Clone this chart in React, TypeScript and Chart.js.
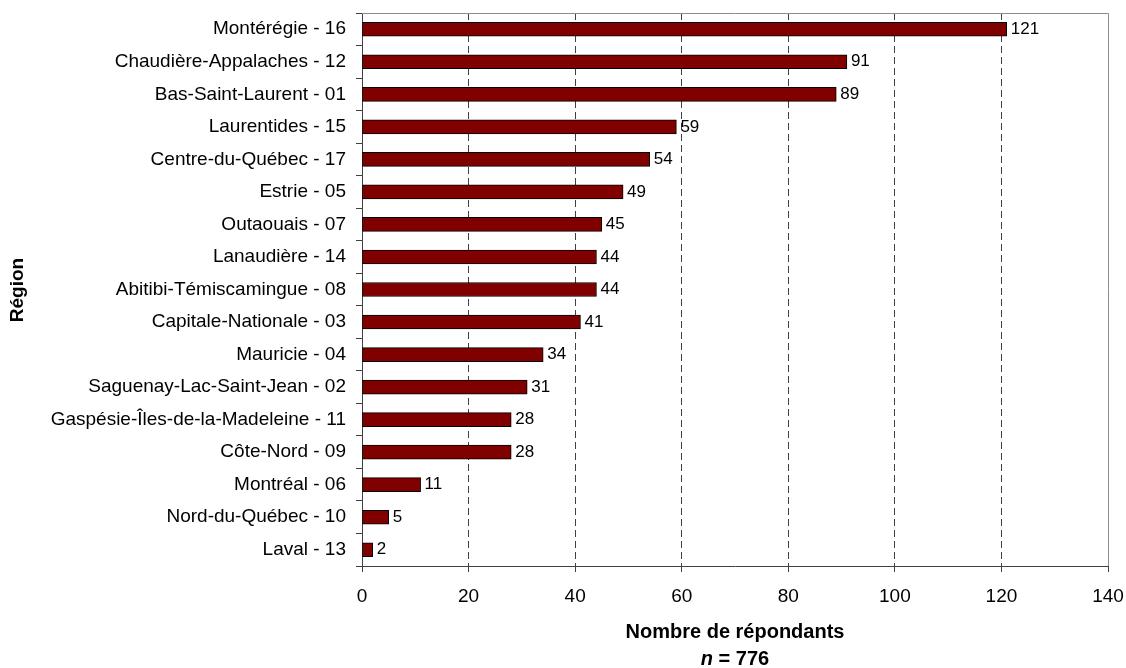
import React, { useEffect, useRef } from "react";
import { Chart, registerables } from "chart.js";

Chart.register(...registerables);

const regions: string[] = [
  "Montérégie - 16",
  "Chaudière-Appalaches - 12",
  "Bas-Saint-Laurent - 01",
  "Laurentides - 15",
  "Centre-du-Québec - 17",
  "Estrie - 05",
  "Outaouais - 07",
  "Lanaudière - 14",
  "Abitibi-Témiscamingue - 08",
  "Capitale-Nationale - 03",
  "Mauricie - 04",
  "Saguenay-Lac-Saint-Jean - 02",
  "Gaspésie-Îles-de-la-Madeleine - 11",
  "Côte-Nord - 09",
  "Montréal - 06",
  "Nord-du-Québec - 10",
  "Laval - 13",
];

const respondents: number[] = [121, 91, 89, 59, 54, 49, 45, 44, 44, 41, 34, 31, 28, 28, 11, 5, 2];

const xMin = 0;
const xMax = 140;
const xStep = 20;

const yTitle = "Région";
const xTitle = "Nombre de répondants";
const nLabel = "n";
const nValue = " = 776";

const FONT = '"Liberation Sans", Arial, Helvetica, sans-serif';

export default function App() {
  const ref = useRef<HTMLCanvasElement | null>(null);

  useEffect(() => {
    document.body.style.margin = "0";
    const canvas = ref.current;
    if (!canvas) return;

    const valueLabels = {
      id: "valueLabels",
      afterDatasetsDraw(chart: any) {
        const ctx = chart.ctx;
        const meta = chart.getDatasetMeta(0);
        ctx.save();
        ctx.font = `17px ${FONT}`;
        ctx.fillStyle = "#000";
        ctx.textAlign = "left";
        ctx.textBaseline = "middle";
        meta.data.forEach((bar: any, i: number) => {
          ctx.fillText(String(respondents[i]), bar.x + 4, bar.y);
        });
        ctx.restore();
      },
    };

    const frame = {
      id: "frame",
      beforeDatasetsDraw(chart: any) {
        const { ctx, chartArea } = chart;
        ctx.save();
        ctx.strokeStyle = "#8c8c8c";
        ctx.lineWidth = 1;
        ctx.beginPath();
        ctx.moveTo(chartArea.left, chartArea.top + 0.5);
        ctx.lineTo(chartArea.right + 0.5, chartArea.top + 0.5);
        ctx.lineTo(chartArea.right + 0.5, chartArea.bottom);
        ctx.stroke();
        ctx.restore();
      },
    };

    const titles = {
      id: "titles",
      afterDraw(chart: any) {
        const { ctx, chartArea } = chart;
        ctx.save();
        ctx.fillStyle = "#000";
        ctx.font = `bold 19px ${FONT}`;
        ctx.textAlign = "center";
        ctx.textBaseline = "middle";
        ctx.translate(18, 290);
        ctx.rotate(-Math.PI / 2);
        ctx.fillText(yTitle, 0, 0);
        ctx.restore();

        ctx.save();
        ctx.fillStyle = "#000";
        const cx = (chartArea.left + chartArea.right) / 2;
        ctx.font = `bold 20px ${FONT}`;
        ctx.textAlign = "center";
        ctx.textBaseline = "middle";
        ctx.fillText(xTitle, cx, 632);
        ctx.font = `bold italic 20px ${FONT}`;
        const w1 = ctx.measureText(nLabel).width;
        ctx.font = `bold 20px ${FONT}`;
        const w2 = ctx.measureText(nValue).width;
        const start = cx - (w1 + w2) / 2;
        ctx.textAlign = "left";
        ctx.font = `bold italic 20px ${FONT}`;
        ctx.fillText(nLabel, start, 659);
        ctx.font = `bold 20px ${FONT}`;
        ctx.fillText(nValue, start + w1, 659);
        ctx.restore();
      },
    };

    const chart = new Chart(canvas, {
      type: "bar",
      data: {
        labels: regions,
        datasets: [
          {
            data: respondents,
            backgroundColor: "#800000",
            borderColor: "#000000",
            borderWidth: 1,
            borderSkipped: false,
            barThickness: 14,
          },
        ],
      },
      options: {
        indexAxis: "y",
        responsive: false,
        animation: false,
        layout: { padding: { top: 13, right: 18, left: 0, bottom: 0 } },
        plugins: {
          legend: { display: false },
          tooltip: { enabled: false },
          title: { display: false },
        },
        scales: {
          x: {
            min: xMin,
            max: xMax,
            ticks: {
              stepSize: xStep,
              color: "#000",
              font: { family: FONT, size: 19 },
              padding: 13,
              maxRotation: 0,
            },
            grid: {
              color: (c: any) =>
                c.tick && (c.tick.value === xMin || c.tick.value === xMax) ? "rgba(0,0,0,0)" : "#404040",
              tickColor: "#404040",
              tickBorderDash: [],
              tickLength: 6,
              drawOnChartArea: true,
            } as any,
            border: { color: "#404040", width: 1, dash: [7, 4] },
            afterFit: (scale: any) => {
              scale.height = 102;
              scale.paddingLeft = 0;
              scale.paddingRight = 0;
            },
          },
          y: {
            ticks: {
              color: "#000",
              font: { family: FONT, size: 19 },
              padding: 10,
              autoSkip: false,
            },
            grid: {
              offset: true,
              drawOnChartArea: false,
              tickLength: 6,
              tickColor: "#404040",
            },
            border: { color: "#404040", width: 1 },
            afterFit: (scale: any) => {
              scale.width = 362;
              scale.paddingTop = 0;
              scale.paddingBottom = 0;
            },
          },
        },
      },
      plugins: [frame, valueLabels, titles],
    } as any);

    return () => chart.destroy();
  }, []);

  return (
    <div style={{ position: "absolute", left: 0, top: 0, width: 1126, height: 668, background: "#fff" }}>
      <canvas ref={ref} width={1126} height={668} style={{ display: "block" }} />
    </div>
  );
}
